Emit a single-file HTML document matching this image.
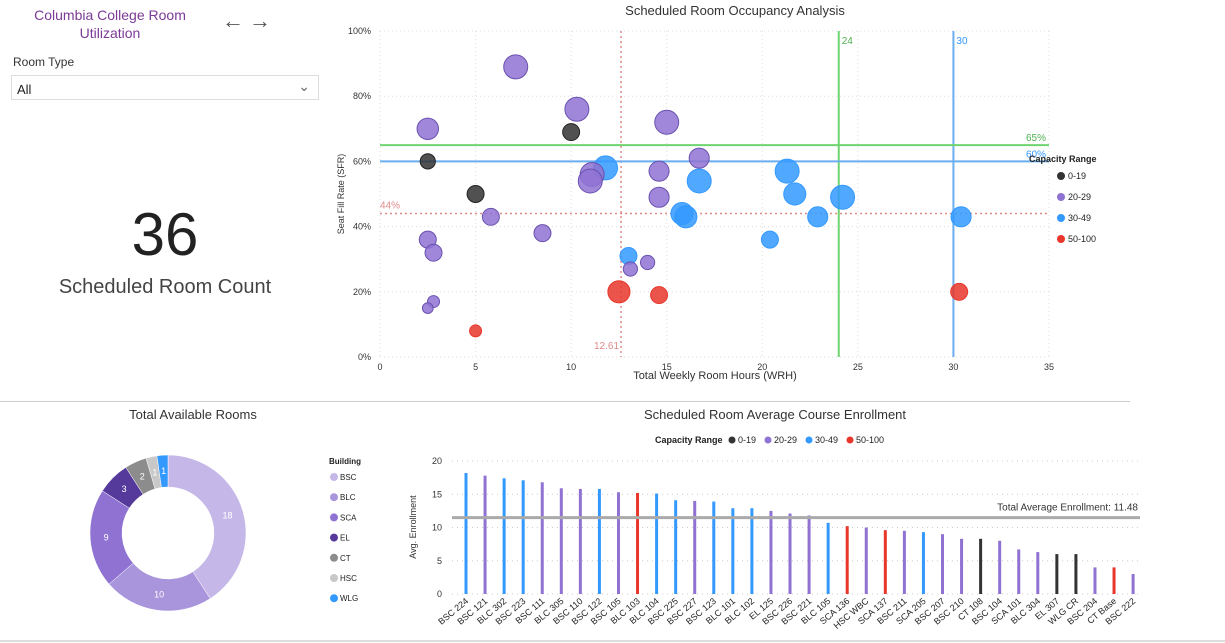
<!DOCTYPE html>
<html><head><meta charset="utf-8">
<style>
body{margin:0;width:1225px;height:643px;background:#fff;font-family:"Liberation Sans",sans-serif;overflow:hidden;position:relative}
.abs{position:absolute}
</style></head><body>
<div class="abs" style="left:10px;top:6px;width:200px;text-align:center;color:#7b3a96;font-size:14px;line-height:18px">Columbia College Room Utilization</div>
<div class="abs" style="left:222px;top:8px;font-size:22px;color:#555;font-weight:bold">&#8592;</div>
<div class="abs" style="left:249px;top:8px;font-size:22px;color:#555;font-weight:bold">&#8594;</div>
<div class="abs" style="left:13px;top:55px;font-size:12px;color:#333">Room Type</div>
<div class="abs" style="left:11px;top:75px;width:308px;height:25px;border:1px solid #ddd;box-sizing:border-box;font-size:13px;color:#222;padding:6px 0 0 5px">All<span style="position:absolute;right:8px;top:2px;color:#666;font-size:14px">&#8964;</span></div>
<div class="abs" style="left:0;top:200px;width:330px;text-align:center;font-size:60px;color:#222">36</div>
<div class="abs" style="left:0;top:276px;width:330px;text-align:center;font-size:20px;color:#444">Scheduled Room Count</div>
<div class="abs" style="left:0;top:401px;width:1130px;height:1px;background:#ccc"></div>
<div class="abs" style="left:0;top:640px;width:1225px;height:2px;background:#ddd"></div>
<svg id="svg" class="abs" style="left:0;top:0" width="1225" height="643" font-family="Liberation Sans, sans-serif"></svg>
<script>
// scatter data
const scX=[7.1,10.3,10.0,15.0,2.5,2.5,11.8,11.1,11.0,16.7,14.6,16.7,14.6,5.0,5.8,8.5,2.5,2.8,15.8,16.0,21.3,21.7,24.2,22.9,20.4,30.4,13.0,13.1,14.0,12.5,14.6,30.3,2.8,2.5,5.0];
const scY=[89,76,69,72,70,60,58,56,54,61,57,54,49,50,43,38,36,32,44,43,57,50,49,43,36,43,31,27,29,20,19,20,17,15,8];
const scSize=[100,100,50,100,80,40,100,100,100,70,70,100,70,50,50,50,50,50,85,85,100,85,100,70,50,70,50,35,35,85,50,50,25,20,25];
const scGroup=[1,1,0,1,1,0,2,1,1,1,1,2,1,0,1,1,1,1,2,2,2,2,2,2,2,2,2,1,1,3,3,3,1,1,3];
const groupNames=["0-19","20-29","30-49","50-100"];
const groupColors=["#333","#8f72d2","#3399ff","#e8362a"];
const xTicks=[0,5,10,15,20,25,30,35];
const yTicks=[0,20,40,60,80,100];
// bar data
const barCats=["BSC 224","BSC 121","BLC 302","BSC 223","BSC 111","BLC 305","BSC 110","BSC 122","BSC 105","BLC 103","BLC 104","BSC 225","BSC 227","BSC 123","BLC 101","BLC 102","EL 125","BSC 226","BSC 221","BLC 105","SCA 136","HSC WBC","SCA 137","BSC 211","SCA 205","BSC 207","BSC 210","CT 108","BSC 104","SCA 101","BLC 304","EL 307","WLG CR","BSC 204","CT Base","BSC 222"];
const barVals=[18.2,17.8,17.4,17.1,16.8,15.9,15.8,15.8,15.3,15.2,15.1,14.1,14.0,13.9,12.9,12.9,12.5,12.1,11.8,10.7,10.2,10.0,9.6,9.5,9.3,9.0,8.3,8.3,8.0,6.7,6.3,6.0,6.0,4.0,4.0,3.0];
const barGroup=[2,1,2,2,1,1,1,2,1,3,2,2,1,2,2,2,1,1,1,2,3,1,3,1,2,1,1,0,1,1,1,0,0,1,3,1];
const barTicks=[0,5,10,15,20];
const avgEnroll=11.48;
// donut data
const bldNames=["BSC","BLC","SCA","EL","CT","HSC","WLG"];
const bldVals=[18,10,9,3,2,1,1];
const bldColors=["#c5b8e8","#a895dc","#8f72d2","#553a9b","#8c8c8c","#c8c8c8","#3399ff"];

const svg=document.getElementById('svg');const NS="http://www.w3.org/2000/svg";
function mk(t,a,name,txt){const e=document.createElementNS(NS,t);for(const k in a)e.setAttribute(k,a[k]);


if(txt!==undefined)e.textContent=txt;svg.appendChild(e);return e;}

// scatter axes
const sx=v=>380+v*(1049-380)/35, sy=v=>357-v*(357-31)/100;
mk('text',{x:735,y:15,'text-anchor':'middle','font-size':13,fill:'#333'},'scatter-title','Scheduled Room Occupancy Analysis');
xTicks.forEach(t=>{mk('line',{x1:sx(t),x2:sx(t),y1:31,y2:357,stroke:'#ddd','stroke-dasharray':'1,3'},'x-gridline');
mk('text',{x:sx(t),y:370,'text-anchor':'middle','font-size':9,fill:'#333'},'x-tick-label',t);});
yTicks.forEach(t=>{mk('line',{x1:380,x2:1049,y1:sy(t),y2:sy(t),stroke:'#ddd','stroke-dasharray':'1,3'},'y-gridline');
mk('text',{x:371,y:sy(t)+3,'text-anchor':'end','font-size':9,fill:'#333'},'y-tick-label',t+'%');});
mk('text',{x:715,y:379,'text-anchor':'middle','font-size':11,fill:'#333'},'x-axis-title','Total Weekly Room Hours (WRH)');
mk('text',{x:344,y:194,'text-anchor':'middle','font-size':9,fill:'#333',transform:'rotate(-90 344 194)'},'y-axis-title','Seat Fill Rate (SFR)');
// reference lines
mk('line',{x1:sx(12.61),x2:sx(12.61),y1:31,y2:357,stroke:'#e08a8a','stroke-width':1.5,'stroke-dasharray':'2,3'},'avg-wrh-line');
mk('text',{x:sx(12.61)-2,y:349,'text-anchor':'end','font-size':10,fill:'#e08a8a'},'avg-wrh-label','12.61');
mk('line',{x1:380,x2:1049,y1:sy(44),y2:sy(44),stroke:'#e08a8a','stroke-width':1.5,'stroke-dasharray':'2,3'},'avg-sfr-line');
mk('text',{x:380,y:sy(44)-5,'font-size':10,fill:'#e08a8a'},'avg-sfr-label','44%');
mk('line',{x1:sx(24),x2:sx(24),y1:31,y2:357,stroke:'#6fd46f','stroke-width':2},'wrh-target-24');
mk('text',{x:sx(24)+3,y:44,'font-size':10,fill:'#4caf50'},'wrh-target-24-label','24');
mk('line',{x1:sx(30),x2:sx(30),y1:31,y2:357,stroke:'#6aaef0','stroke-width':2},'wrh-target-30');
mk('text',{x:sx(30)+3,y:44,'font-size':10,fill:'#3399ff'},'wrh-target-30-label','30');
mk('line',{x1:380,x2:1049,y1:sy(65),y2:sy(65),stroke:'#6fd46f','stroke-width':2},'sfr-target-65');
mk('text',{x:1046,y:sy(65)-4,'text-anchor':'end','font-size':10,fill:'#4caf50'},'sfr-target-65-label','65%');
mk('line',{x1:380,x2:1049,y1:sy(60),y2:sy(60),stroke:'#6aaef0','stroke-width':2},'sfr-target-60');
mk('text',{x:1046,y:sy(60)-4,'text-anchor':'end','font-size':10,fill:'#3399ff'},'sfr-target-60-label','60%');
scX.forEach((v,i)=>{const c=groupColors[scGroup[i]];
mk('circle',{cx:sx(v),cy:sy(scY[i]),r:Math.sqrt(scSize[i])*1.2,fill:c,'fill-opacity':0.85,stroke:c==='#333'?'#222':(scGroup[i]==1?'#6a52b0':c),'stroke-width':1},'bubble-'+i);});
// scatter legend
mk('text',{x:1029,y:162,'font-size':9,'font-weight':'bold',fill:'#222'},'scatter-legend-title','Capacity Range');
groupNames.forEach((g,i)=>{const y=176+i*21;
mk('circle',{cx:1061,cy:y,r:4,fill:groupColors[i]},'scatter-legend-dot');
mk('text',{x:1068,y:y+3,'font-size':9,fill:'#222'},'scatter-legend-label',g);});

// donut
mk('text',{x:193,y:419,'text-anchor':'middle','font-size':13,fill:'#333'},'donut-title','Total Available Rooms');
const cx=168,cy=533,R=78,r0=46;const tot=bldVals.reduce((a,b)=>a+b,0);let a0=0;
bldVals.forEach((v,i)=>{const a1=a0+v/tot*2*Math.PI;const p=(a,rr)=>[cx+rr*Math.sin(a),cy-rr*Math.cos(a)];
const L=(a1-a0)>Math.PI?1:0;const[x1,y1]=p(a0,R),[x2,y2]=p(a1,R),[x3,y3]=p(a1,r0),[x4,y4]=p(a0,r0);
mk('path',{d:`M${x1},${y1}A${R},${R} 0 ${L} 1 ${x2},${y2}L${x3},${y3}A${r0},${r0} 0 ${L} 0 ${x4},${y4}Z`,fill:bldColors[i],stroke:'#fff','stroke-width':0.5},'donut-slice-'+bldNames[i].toLowerCase());
const[lx,ly]=p((a0+a1)/2,(R+r0)/2);
mk('text',{x:lx,y:ly+3,'text-anchor':'middle','font-size':9,fill:'#fff'},'donut-slice-label',v);a0=a1;});
mk('text',{x:329,y:464,'font-size':8,'font-weight':'bold',fill:'#222'},'donut-legend-title','Building');
bldNames.forEach((b,i)=>{const y=477+i*20.2;
mk('circle',{cx:334,cy:y,r:4,fill:bldColors[i]},'donut-legend-dot');
mk('text',{x:340,y:y+3,'font-size':8,fill:'#222'},'donut-legend-label',b);});

// bar chart
const by=v=>594-v*(594-461)/20, bx=i=>466+i*19.06;
mk('text',{x:775,y:419,'text-anchor':'middle','font-size':13,fill:'#333'},'bar-title','Scheduled Room Average Course Enrollment');
mk('text',{x:655,y:443,'font-size':9,'font-weight':'bold',fill:'#222'},'bar-legend-title','Capacity Range');
const lx0=[732,768,809,850];
groupNames.forEach((g,i)=>{mk('circle',{cx:lx0[i],cy:440,r:3.5,fill:groupColors[i]},'bar-legend-dot');
mk('text',{x:lx0[i]+6,y:443,'font-size':9,fill:'#222'},'bar-legend-label',g);});
barTicks.forEach(t=>{mk('line',{x1:452,x2:1140,y1:by(t),y2:by(t),stroke:'#ccc','stroke-dasharray':'1,4'},'bar-gridline');
mk('text',{x:442,y:by(t)+3,'text-anchor':'end','font-size':9,fill:'#333'},'bar-y-tick',t);});
mk('text',{x:416,y:527,'text-anchor':'middle','font-size':9,fill:'#333',transform:'rotate(-90 416 527)'},'bar-y-axis-title','Avg. Enrollment');
barVals.forEach((v,i)=>{mk('rect',{x:bx(i)-1.5,y:by(v),width:3,height:594-by(v),fill:groupColors[barGroup[i]]},'bar-'+barCats[i].toLowerCase().replace(/ /g,'-'));
mk('text',{x:bx(i)+3,y:602,'text-anchor':'end','font-size':9,fill:'#222',transform:`rotate(-40 ${bx(i)+3} 602)`},'bar-x-label',barCats[i]);});
mk('line',{x1:452,x2:1140,y1:by(avgEnroll),y2:by(avgEnroll),stroke:'#aaa','stroke-width':3},'avg-enrollment-line');
mk('text',{x:1138,y:by(avgEnroll)-7,'text-anchor':'end','font-size':10,fill:'#333'},'avg-enrollment-label','Total Average Enrollment: '+avgEnroll);
</script>
</body></html>
